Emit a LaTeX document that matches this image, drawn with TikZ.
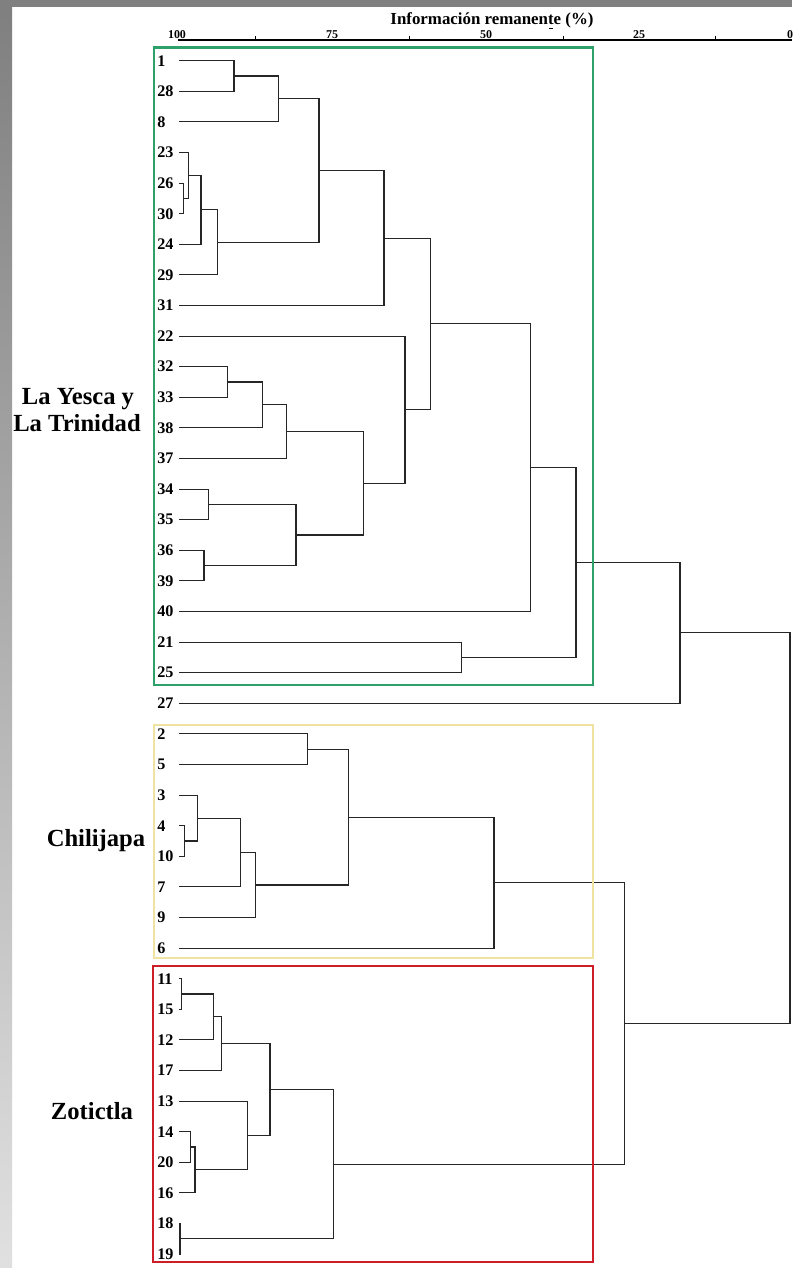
\documentclass[tikz,border=0pt]{standalone}
\usepackage{fontspec}
\setmainfont{Liberation Serif}
\usetikzlibrary{calc}
\definecolor{grpgreen}{RGB}{46,160,105}
\definecolor{grpyellow}{RGB}{240,226,160}
\definecolor{grpred}{RGB}{205,30,40}
\tikzset{
  leaf/.style={anchor=west, inner sep=0pt, font=\fontsize{11.5}{12}\selectfont\bfseries},
  dendro/.style={line width=0.75pt, draw=black!85},
  grplabel/.style={anchor=base, inner sep=0pt, font=\fontsize{17.5}{20}\selectfont\bfseries},
  grpbox/.style={line width=1.5pt},
  ticklabel/.style={anchor=base, inner sep=0pt, font=\fontsize{8.5}{9}\selectfont\bfseries},
}

\begin{document}
\begin{tikzpicture}[x=0.025cm, y=-0.025cm]
    \useasboundingbox (0,0) rectangle (792,1268);
    \fill[gray] (0,0) rectangle (792,7);
    \shade[top color=gray, middle color=black!40, bottom color=black!12] (0,7) rectangle (12,1268);

    \node (title) [anchor=base, inner sep=0pt, font=\fontsize{12}{14}\selectfont\bfseries] at (492,25) {Información remanente (\%)};
    \coordinate (ax0) at (178,40);
    \coordinate (ax1) at (792,40);
    \draw[line width=1.1pt] (ax0) -- (ax1);
    \foreach \v/\px in {100/177,75/332,50/486,25/639,0/790} {
      \node (t\v) [ticklabel] at (\px,39) {\v};
    }
    \foreach \px in {255,409,563,715} {
      \draw[line width=.6pt] (\px,36.5) -- (\px,40);
    }
    \draw[line width=.8pt] (549,28.3) -- (553,28.3);

    \foreach \lf [count=\i from 0] in {1,28,8,23,26,30,24,29,31,22,32,33,38,37,34,35,36,39,40,21,25,27,2,5,3,4,10,7,9,6,11,15,12,17,13,14,20,16,18,19} {
      \node (n\lf) [leaf] at (157,{60.7+30.6*\i}) {\lf};
      \coordinate (s\lf) at (179.3,{60.7+30.6*\i});
    }

    \foreach \nm/\mx/\ca/\cb in {
      a1/234/s1/s28, a2/278.3/a1/s8, a3/183.3/s26/s30, a4/188.3/s23/a3,
      a5/201/a4/s24, a6/217.3/a5/s29, a7/319/a2/a6, a8/384/a7/s31,
      b1/227.3/s32/s33, b2/262.3/b1/s38, b3/286.7/b2/s37, b4/208.3/s34/s35,
      b5/204/s36/s39, b6/296/b4/b5, b7/363.3/b3/b6, b8/405/s22/b7,
      c1/430.7/a8/b8, c2/530.7/c1/s40, c3/461.7/s21/s25, c4/576/c2/c3,
      c5/680/c4/s27,
      d1/307.3/s2/s5, d2/184.3/s4/s10, d3/197.7/s3/d2, d4/240.7/d3/s7,
      d5/255.7/d4/s9, d6/348.3/d1/d5, d7/494/d6/s6,
      e1/181.7/s11/s15, e2/213.3/e1/s12, e3/221.7/e2/s17, e4/190.7/s14/s20,
      e5/195/e4/s16, e6/247.3/s13/e5, e7/270/e3/e6, e8/180/s18/s19,
      e9/333.3/e7/e8, e10/624.3/d7/e9,
      root/790/c5/e10} {
      \path let \p1=($(\ca)!.5!(\cb)$), \p2=(\mx,0) in (\x2,\y1) coordinate (\nm);
      \draw[dendro] (\ca) -| (\nm) |- (\cb);
    }

    \draw[grpbox, grpgreen] (154,47.5) rectangle (593.3,684.7);
    \draw[grpbox, grpyellow] (154,725) rectangle (593.3,958.3);
    \draw[grpbox, grpred] (153.3,966) rectangle (593.3,1262.3);

    \node (lyt1) [grplabel] at (78,404) {La Yesca y};
    \node (lyt2) [grplabel] at (77,431.7) {La Trinidad};
    \node (chi) [grplabel] at (96,846) {Chilijapa};
    \node (zot) [grplabel] at (92,1119.5) {Zotictla};
\end{tikzpicture}
\end{document}
